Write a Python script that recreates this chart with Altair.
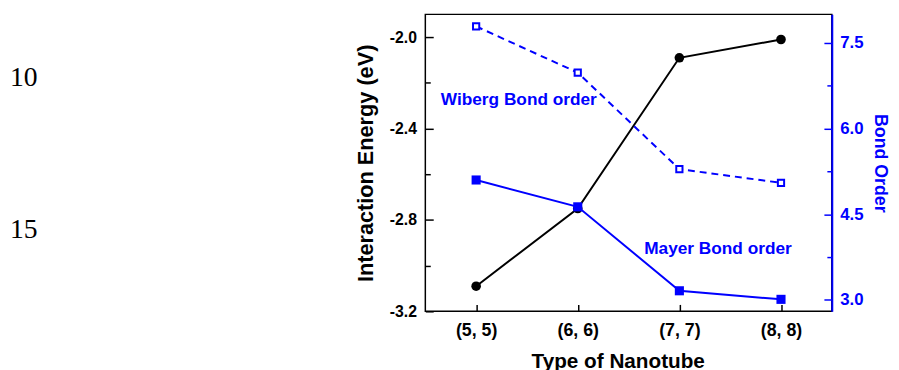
import json
import altair as alt
import pandas as pd

# ---------------- data ----------------
categories = ["(5, 5)", "(6, 6)", "(7, 7)", "(8, 8)"]
interaction_energy = [-3.09, -2.75, -2.09, -2.01]
wiberg_bond_order = [7.79, 6.98, 5.29, 5.05]
mayer_bond_order = [5.10, 4.63, 3.16, 3.01]

left_ticks = [-3.2, -2.8, -2.4, -2.0]
left_minor = [-3.0, -2.6, -2.2]
right_ticks = [3.0, 4.5, 6.0, 7.5]
right_minor = [3.75, 5.25, 6.75]

annotations = ["Wiberg Bond order", "Mayer Bond order"]
annotation_x = [1.42, 3.38]
annotation_y = [6.50, 3.89]

line_numbers = ["10", "15"]

# ---------------- tables ----------------
df = pd.DataFrame({
    "pos": list(range(1, len(categories) + 1)),
    "category": categories,
    "energy": interaction_energy,
    "wiberg": wiberg_bond_order,
    "mayer": mayer_bond_order,
})
ann_df = pd.DataFrame({"label": annotations, "ax": annotation_x, "ay": annotation_y})

BLUE = "#0000FF"
FONT = "Liberation Sans"

x_scale = alt.Scale(domain=[0.5, 4.5], nice=False, zero=False)
yl_scale = alt.Scale(domain=[-3.2, -1.9], nice=False, zero=False)
yr_scale = alt.Scale(domain=[2.8, 8.0], nice=False, zero=False)

x_label_expr = json.dumps(categories) + "[datum.value - 1]"
num_label_expr = "replace(format(datum.value, '.1f'), '\u2212', '-')"

x_axis = alt.Axis(values=list(range(1, len(categories) + 1)), labelExpr=x_label_expr,
                  title="Type of Nanotube", offset=-7, tickSize=7, domain=False,
                  labelPadding=11, titlePadding=11, labelFontSize=18, titleFontSize=21,
                  titleX=195, labelFlush=False, grid=False)


def x_enc(field):
    return alt.X(field, scale=x_scale, axis=x_axis)


# ---------------- left (interaction energy) ----------------
energy_line = alt.Chart(df).mark_line(color="black", strokeWidth=2).encode(
    x=x_enc("pos:Q"),
    y=alt.Y("energy:Q", scale=yl_scale,
            axis=alt.Axis(orient="left", values=left_ticks, labelExpr=num_label_expr,
                          offset=-8, tickSize=8, domain=False, labelPadding=9,
                          titlePadding=12, labelFontSize=16, titleFontSize=22,
                          title="Interaction Energy (eV)", grid=False)),
)
energy_pts = alt.Chart(df).mark_point(shape="circle", filled=True, size=95,
                                      color="black", opacity=1).encode(
    x=x_enc("pos:Q"),
    y=alt.Y("energy:Q", scale=yl_scale,
            axis=alt.Axis(orient="left", values=left_minor, labels=False, domain=False,
                          offset=-5, tickSize=5, title=None, grid=False)),
)
left = alt.layer(energy_line, energy_pts).resolve_axis(y="independent")

# ---------------- right (bond orders) ----------------
wiberg_line = alt.Chart(df).mark_line(color=BLUE, strokeWidth=2, strokeDash=[7, 5]).encode(
    x=x_enc("pos:Q"),
    y=alt.Y("wiberg:Q", scale=yr_scale,
            axis=alt.Axis(orient="right", values=right_ticks, labelExpr=num_label_expr,
                          ticks=False, tickSize=0, domain=True, domainColor=BLUE,
                          domainWidth=2, labelColor=BLUE, titleColor=BLUE, labelPadding=8,
                          titlePadding=8, labelFontSize=17, titleFontSize=18,
                          title="Bond Order", grid=False)),
)
wiberg_pts = alt.Chart(df).mark_point(shape="square", filled=True, fill="white",
                                      stroke=BLUE, strokeWidth=2, size=40,
                                      opacity=1).encode(
    x=x_enc("pos:Q"),
    y=alt.Y("wiberg:Q", scale=yr_scale,
            axis=alt.Axis(orient="right", values=right_ticks, labels=False, domain=False,
                          offset=-8, tickSize=8, tickColor=BLUE, title=None, grid=False)),
)
mayer_line = alt.Chart(df).mark_line(color=BLUE, strokeWidth=2).encode(
    x=x_enc("pos:Q"),
    y=alt.Y("mayer:Q", scale=yr_scale,
            axis=alt.Axis(orient="right", values=right_minor, labels=False, domain=False,
                          offset=-5, tickSize=5, tickColor=BLUE, title=None, grid=False)),
)
mayer_pts = alt.Chart(df).mark_square(color=BLUE, size=85, opacity=1).encode(
    x=x_enc("pos:Q"),
    y=alt.Y("mayer:Q", scale=yr_scale, axis=None),
)
ann = alt.Chart(ann_df).mark_text(color=BLUE, font=FONT, fontWeight="bold",
                                  fontSize=17.5, align="center", baseline="middle").encode(
    x=x_enc("ax:Q"),
    y=alt.Y("ay:Q", scale=yr_scale, axis=None),
    text="label:N",
)
right = alt.layer(wiberg_line, wiberg_pts, mayer_line, mayer_pts, ann).resolve_axis(
    y="independent")

# ---------------- document line numbers (outside the plot) ----------------
ln1 = alt.Chart(pd.DataFrame({"t": [line_numbers[0]]})).mark_text(
    font="Liberation Serif", fontSize=28, align="left", baseline="middle",
    color="black").encode(text="t:N", x=alt.value(-421), y=alt.value(65))
ln2 = alt.Chart(pd.DataFrame({"t": [line_numbers[1]]})).mark_text(
    font="Liberation Serif", fontSize=28, align="left", baseline="middle",
    color="black").encode(text="t:N", x=alt.value(-421), y=alt.value(219))

chart = (
    alt.layer(left, right, ln1, ln2)
    .resolve_scale(y="independent")
    .properties(
        width=412, height=301,
        autosize=alt.AutoSizeParams(type="none"),
        padding={"left": 423, "top": 4, "right": 60, "bottom": 57},
        background="white",
    )
    .configure_view(stroke="black", strokeWidth=1.5)
    .configure_axis(labelFont=FONT, titleFont=FONT, labelFontWeight="bold",
                    titleFontWeight="bold", labelColor="black", titleColor="black",
                    tickColor="black", tickWidth=1.5, domainColor="black")
)

chart.save("out.html", embed_options={"renderer": "svg", "actions": False})
